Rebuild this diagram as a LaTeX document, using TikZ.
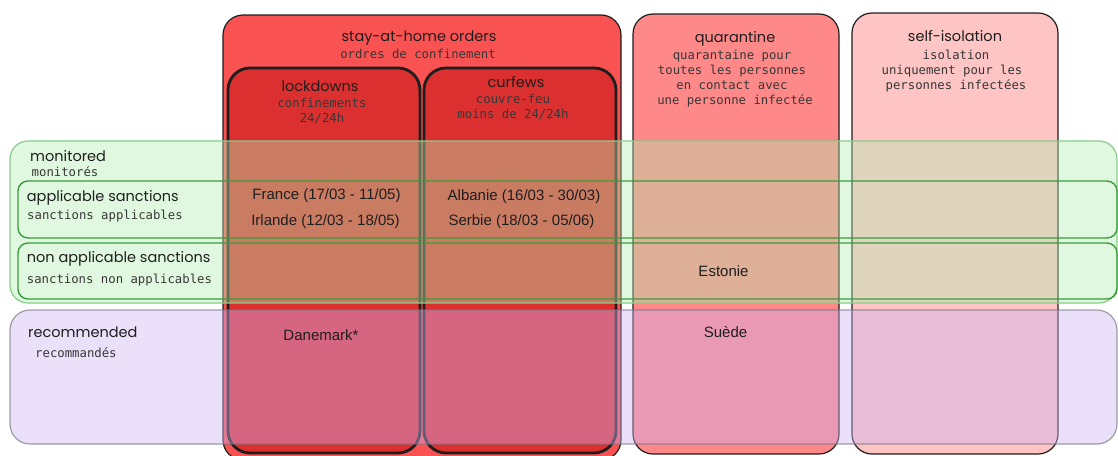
\documentclass[tikz,border=0pt]{standalone}
\usepackage{fontspec}
\setmainfont{Liberation Sans}
\newfontfamily\handfont{Poppins}
\newfontfamily\codefont{DejaVu Sans Mono}
\definecolor{sahred}{RGB}{248,82,82}
\definecolor{lockred}{RGB}{220,48,48}
\definecolor{quarpink}{RGB}{255,136,136}
\definecolor{isopink}{RGB}{255,196,196}
\definecolor{monfill}{RGB}{177,238,177}
\definecolor{monline}{RGB}{135,205,135}
\definecolor{sancline}{RGB}{60,155,60}
\definecolor{recfill}{RGB}{204,179,243}
\definecolor{recline}{RGB}{120,120,130}
\definecolor{ink}{RGB}{30,30,30}
\definecolor{codeink}{RGB}{55,55,55}
\tikzset{
  colbox/.style={draw=ink, line width=1.2pt, rounded corners=20pt, inner sep=0pt, outer sep=0pt, anchor=north west},
  subbox/.style={colbox, line width=2.8pt, rounded corners=22pt},
  monrow/.style={fill=monfill, fill opacity=0.4, draw=monline, line width=1.2pt, rounded corners=18pt, inner sep=0pt, outer sep=0pt, anchor=north west},
  sancrow/.style={draw=sancline, line width=1.4pt, rounded corners=10pt, inner sep=0pt, outer sep=0pt, anchor=north west},
  recrow/.style={fill=recfill, fill opacity=0.41, draw=recline, draw opacity=0.7, line width=1.2pt, rounded corners=20pt, inner sep=0pt, outer sep=0pt, anchor=north west},
  hand/.style={font=\handfont\fontsize{14.5}{17}\selectfont, text=ink, inner sep=0pt, anchor=base},
  code/.style={font=\codefont\fontsize{12.3}{15}\selectfont, text=codeink, inner sep=0pt, anchor=base},
  entry/.style={font=\fontsize{15}{18}\selectfont, text=ink, inner sep=0pt, anchor=base},
}
\begin{document}
\begin{tikzpicture}[x=1pt, y=-1pt]
\useasboundingbox (0,0) rectangle (1118,455);

% columns: measure types
\node[colbox, fill=sahred, minimum width=398pt, minimum height=445pt] (sah) at (223,15) {};
\node[subbox, fill=lockred, minimum width=192pt, minimum height=385pt] (lock) at (228,68) {};
\node[subbox, fill=lockred, minimum width=192pt, minimum height=385pt] (curf) at (424,68) {};
\node[colbox, fill=quarpink, minimum width=206pt, minimum height=440pt] (quar) at (633,14) {};
\node[colbox, fill=isopink, minimum width=206pt, minimum height=441pt] (iso) at (852,13) {};

% rows: enforcement levels
\node[monrow, minimum width=1107pt, minimum height=162pt] (mon) at (10,141) {};
\node[sancrow, minimum width=1099pt, minimum height=57pt] (appl) at (18,181) {};
\node[sancrow, minimum width=1099pt, minimum height=56pt] (nonappl) at (18,243) {};
\node[recrow, minimum width=1107pt, minimum height=134pt] (rec) at (10,310) {};

% column headings
\node[hand] (sahT) at (419,41.7) {stay-at-home orders};
\node[code] (sahS) at (418,58.3) {ordres de confinement};
\node[hand] (lockT) at (320,91) {lockdowns};
\node[code] (lockS1) at (322,107.7) {confinements};
\node[code] (lockS2) at (322,122.3) {24/24h};
\node[hand] (curfT) at (516,87.7) {curfews};
\node[code] (curfS1) at (513,103.7) {couvre-feu};
\node[code] (curfS2) at (513,118.7) {moins de 24/24h};
\node[hand] (quarT) at (735,42.3) {quarantine};
\node[code] (quarS1) at (732,59.3) {quarantaine pour};
\node[code] (quarS2) at (732,74.2) {toutes les personnes};
\node[code] (quarS3) at (732,89.1) {en contact avec};
\node[code] (quarS4) at (735,104) {une personne infectée};
\node[hand] (isoT) at (955,41) {self-isolation};
\node[code] (isoS1) at (956,59.3) {isolation};
\node[code] (isoS2) at (952,74.3) {uniquement pour les};
\node[code] (isoS3) at (956,89.3) {personnes infectées};

% row headings
\node[hand, anchor=base west] (monT) at (30,161.7) {monitored};
\node[code, anchor=base west] (monS) at (31.5,176) {monitorés};
\node[hand, anchor=base west] (applT) at (26.7,201) {applicable sanctions};
\node[code, anchor=base west] (applS) at (27,219.3) {sanctions applicables};
\node[hand, anchor=base west] (nonapplT) at (26.7,262.7) {non applicable sanctions};
\node[code, anchor=base west] (nonapplS) at (26.7,283.3) {sanctions non applicables};
\node[hand, anchor=base west] (recT) at (28,337) {recommended};
\node[code, anchor=base west] (recS) at (35,357) {recommandés};

% countries
\node[entry] (fr) at (326.5,199.3) {France (17/03 - 11/05)};
\node[entry] (ie) at (325.5,225) {Irlande (12/03 - 18/05)};
\node[entry] (al) at (524,200) {Albanie (16/03 - 30/03)};
\node[entry] (rs) at (521.5,225) {Serbie (18/03 - 05/06)};
\node[entry] (ee) at (723.5,276) {Estonie};
\node[entry] (dk) at (321,340.7) {Danemark*};
\node[entry] (se) at (725.5,337.3) {Suède};
\end{tikzpicture}
\end{document}
